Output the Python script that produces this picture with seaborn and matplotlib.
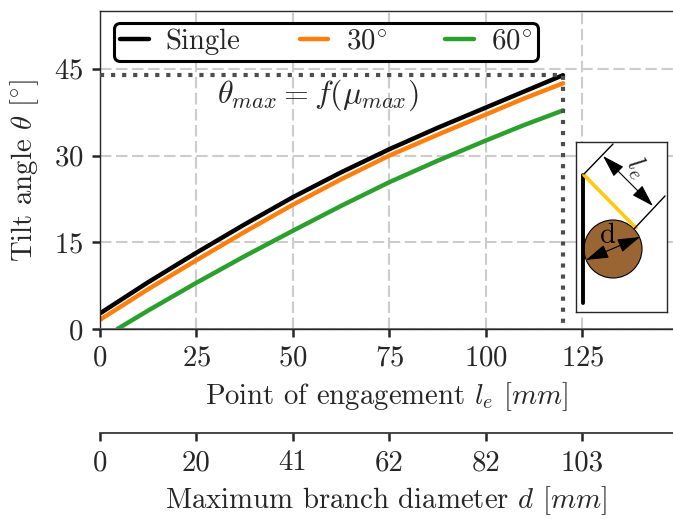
import numpy as np
import pandas as pd
import seaborn as sns
import matplotlib.pyplot as plt
from matplotlib.patches import Circle

engagement = [0, 12.5, 25, 37.5, 50, 62.5, 75, 87.5, 100, 110, 120]
single = [2.7, 8.1, 13.2, 18.1, 22.8, 27.1, 31.1, 34.8, 38.3, 41.1, 43.9]
deg30 = [1.6, 6.9, 11.9, 16.8, 21.5, 25.9, 30.0, 33.6, 37.1, 39.9, 42.5]
deg60_x = [4.5, 12.5, 25, 37.5, 50, 62.5, 75, 87.5, 100, 110, 120]
deg60 = [0.0, 3.2, 8.0, 12.6, 17.0, 21.3, 25.4, 29.1, 32.6, 35.3, 37.8]
x_ticks = [0, 25, 50, 75, 100, 125]
y_ticks = [0, 15, 30, 45]
diam_labels = ['0', '20', '41', '62', '82', '103']

sns.set_style('ticks')
plt.rcParams['font.family'] = ['cmr10']
plt.rcParams['mathtext.fontset'] = 'cm'
plt.rcParams['axes.unicode_minus'] = False
plt.rcParams['axes.formatter.use_mathtext'] = True
fs = 20.7

df = pd.concat([
    pd.DataFrame({'x': engagement, 'y': single, 'config': 'Single'}),
    pd.DataFrame({'x': engagement, 'y': deg30, 'config': r'30$^{\circ}$'}),
    pd.DataFrame({'x': deg60_x, 'y': deg60, 'config': r'60$^{\circ}$'}),
])

fig = plt.figure(figsize=(6.73, 5.19), dpi=100)
ax = fig.add_axes([100 / 673, 1 - 329 / 519, 573 / 673, 318 / 519])
sns.lineplot(data=df, x='x', y='y', hue='config', ax=ax, linewidth=3.2, sort=False,
             palette=['black', '#ff7f0e', '#2ca02c'])
ax.set_xlim(0, 148.5)
ax.set_ylim(0, 55)
ax.set_xticks(x_ticks)
ax.set_yticks(y_ticks)
ax.grid(True, color='0.8', lw=1.5, dashes=(5.5, 2.2))
ax.set_axisbelow(True)
ax.tick_params(labelsize=fs, width=1.8, length=6, pad=6)
ax.set_xlabel(r'Point of engagement $l_e$ $[mm]$', fontsize=fs, labelpad=6)
ax.set_ylabel(r'Tilt angle $\theta$ [$^{\circ}$]', fontsize=fs, labelpad=9)
ax.spines['right'].set_visible(False)
for s in ['left', 'top', 'bottom']:
    ax.spines[s].set_linewidth(1.0)

ax.plot([0, 120, 120], [single[-1], single[-1], 0], ls=':', color='0.3', lw=3, zorder=5)
ax.axhline(0, color='0.4', lw=2, zorder=5)
ax.text(117 / 573, 1 - 84 / 318, r'$\theta_{max} = f(\mu_{max})$', transform=ax.transAxes, fontsize=23,
        ha='left', va='center')

handles, labels = ax.get_legend_handles_labels()
leg = ax.legend(handles, labels, ncol=3, loc='upper left', bbox_to_anchor=(14 / 573, 1 - 12 / 318), fontsize=fs,
                fancybox=True, framealpha=1, edgecolor='black', borderaxespad=0,
                columnspacing=2.05, handlelength=1.0, handletextpad=0.6, borderpad=0.2)
leg.get_frame().set_linewidth(2.2)

# second axis with the branch diameter
ax2 = ax.twiny()
ax2.set_xlim(ax.get_xlim())
ax2.set_xticks(x_ticks)
ax2.set_xticklabels(diam_labels)
ax2.xaxis.set_ticks_position('bottom')
ax2.xaxis.set_label_position('bottom')
ax2.spines['bottom'].set_position(('outward', 75))
ax2.spines['bottom'].set_linewidth(1.2)
for s in ['top', 'left', 'right']:
    ax2.spines[s].set_visible(False)
ax2.tick_params(labelsize=fs, width=1.8, length=6, pad=6)
ax2.set_xlabel(r'Maximum branch diameter $d$ $[mm]$', fontsize=fs, labelpad=6)

# little sketch, coordinates in pixels of the figure
ins = fig.add_axes([576 / 673, 1 - 312 / 519, 91 / 673, 170 / 519], zorder=10)
ins.set_xlim(576, 667)
ins.set_ylim(312, 142)
ins.set_xticks([])
ins.set_yticks([])
for s in ins.spines.values():
    s.set_linewidth(1.0)
ins.add_patch(Circle((613, 249), 29, fc='#996633', ec='black', lw=0.8))
ins.plot([583, 583], [175, 303], color='black', lw=2.8, solid_capstyle='round')
ins.plot([584, 636], [175, 228], color='#ffc90e', lw=2.6)
ins.plot([584, 613], [174, 144], color='black', lw=1)
ins.plot([634, 665], [229, 196], color='black', lw=1)
arrow = dict(arrowstyle='<|-|>,head_length=1.4,head_width=0.43', color='black', lw=0.8,
             mutation_scale=10, shrinkA=0, shrinkB=0)
ins.annotate('', xy=(603, 156), xytext=(653, 206), arrowprops=arrow)
ins.annotate('', xy=(586, 260), xytext=(640, 237), arrowprops=arrow)
ins.text(608, 236, 'd', fontsize=fs, ha='center', va='center', color='black')
ins.text(637, 168, r'$l_e$', fontsize=20, rotation=-58, ha='center', va='center')

fig.savefig('out.png', dpi=100)
